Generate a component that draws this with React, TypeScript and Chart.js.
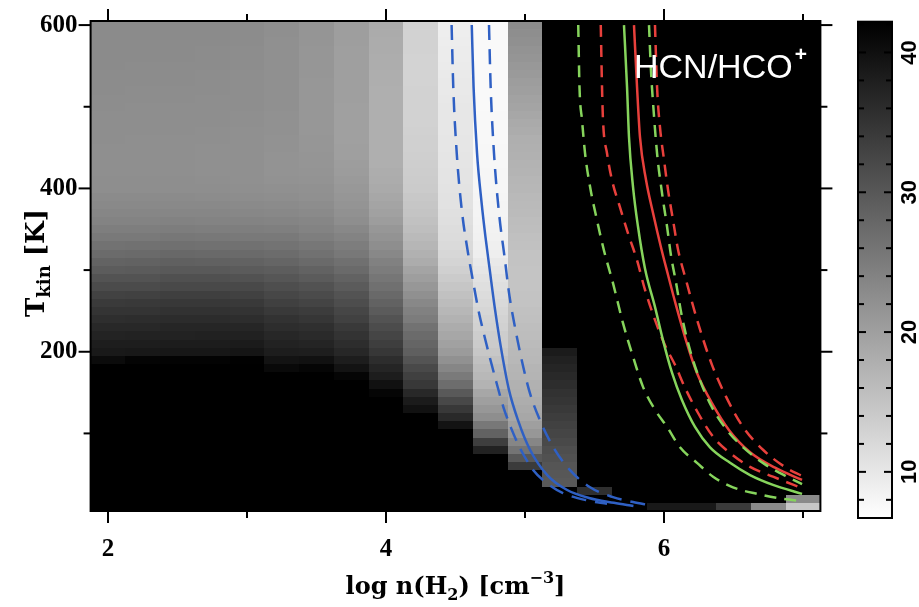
import React, { useEffect, useRef } from 'react';
import { Chart, registerables } from 'chart.js';

Chart.register(...registerables);

// ---------- grid axes ----------
const LOG_N = [2, 2.25, 2.5, 2.75, 3, 3.25, 3.5, 3.75, 4, 4.25, 4.5, 4.75, 5, 5.25, 5.5, 5.75, 6, 6.25, 6.5, 6.75, 7];
const T_KIN = [
  10, 20, 30, 40, 50, 60, 70, 80, 90, 100,
  110, 120, 130, 140, 150, 160, 170, 180, 190, 200,
  210, 220, 230, 240, 250, 260, 270, 280, 290, 300,
  310, 320, 330, 340, 350, 360, 370, 380, 390, 400,
  410, 420, 430, 440, 450, 460, 470, 480, 490, 500,
  510, 520, 530, 540, 550, 560, 570, 580, 590, 600,
];

// ---------- HCN/HCO+ ratio, one array per log n column (T = 10 ... 600) ----------
const RATIO: number[][] = [
  // n = 2.00
  [45, 45, 45, 45, 45, 45, 45, 45, 45, 45, 45, 45, 45, 45, 45, 45, 45, 45,
    40.6, 38.7, 38.1, 37.3, 36.6, 35.8, 34.9, 34.1, 33.0, 31.7, 30.6, 29.4, 28.4, 27.3, 26.3, 25.3, 24.6, 23.9, 23.5, 23.1, 22.8,
    22.5, 22.4, 22.3, 22.3, 22.3, 22.3, 22.4, 22.4, 22.5, 22.5, 22.6, 22.6, 22.7, 22.7, 22.7, 22.8, 22.8, 22.8, 22.9, 22.9, 22.9],
  // n = 2.25
  [45, 45, 45, 45, 45, 45, 45, 45, 45, 45, 45, 45, 45, 45, 45, 45, 45, 45,
    41.6, 38.9, 38.2, 37.4, 36.7, 35.9, 35.0, 34.2, 33.1, 31.8, 30.7, 29.5, 28.5, 27.4, 26.4, 25.4, 24.7, 24.0, 23.5, 23.1, 22.8,
    22.5, 22.4, 22.3, 22.3, 22.3, 22.3, 22.3, 22.4, 22.4, 22.5, 22.5, 22.6, 22.6, 22.7, 22.7, 22.7, 22.8, 22.8, 22.8, 22.9, 22.9],
  // n = 2.50
  [45, 45, 45, 45, 45, 45, 45, 45, 45, 45, 45, 45, 45, 45, 45, 45, 45, 45,
    41.8, 39.0, 38.3, 37.5, 36.9, 36.1, 35.2, 34.4, 33.4, 32.1, 31.0, 29.8, 28.8, 27.7, 26.6, 25.6, 24.8, 24.1, 23.6, 23.1, 22.8,
    22.5, 22.4, 22.3, 22.3, 22.3, 22.3, 22.3, 22.4, 22.4, 22.5, 22.5, 22.6, 22.6, 22.7, 22.7, 22.7, 22.8, 22.8, 22.8, 22.9, 22.9],
  // n = 2.75
  [45, 45, 45, 45, 45, 45, 45, 45, 45, 45, 45, 45, 45, 45, 45, 45, 45, 45,
    41.8, 39.0, 38.3, 37.6, 36.9, 36.1, 35.3, 34.4, 33.4, 32.1, 31.0, 29.8, 28.7, 27.6, 26.5, 25.5, 24.7, 24.0, 23.5, 23.1, 22.7,
    22.4, 22.3, 22.2, 22.2, 22.2, 22.2, 22.3, 22.3, 22.4, 22.4, 22.5, 22.5, 22.6, 22.6, 22.6, 22.7, 22.7, 22.7, 22.8, 22.8, 22.8],
  // n = 3.00
  [45, 45, 45, 45, 45, 45, 45, 45, 45, 45, 45, 45, 45, 45, 45, 45, 45, 45,
    42.0, 39.3, 38.4, 37.6, 36.9, 36.0, 35.1, 34.2, 33.2, 32.0, 30.8, 29.6, 28.5, 27.4, 26.4, 25.4, 24.6, 23.9, 23.4, 23.0, 22.6,
    22.3, 22.2, 22.1, 22.1, 22.1, 22.1, 22.2, 22.2, 22.3, 22.3, 22.4, 22.4, 22.5, 22.5, 22.5, 22.6, 22.6, 22.6, 22.7, 22.7, 22.7],
  // n = 3.25
  [45, 45, 45, 45, 45, 45, 45, 45, 45, 45, 45, 45, 45, 45, 45, 45, 45,
    41.0, 39.5, 38.2, 37.5, 36.8, 36.0, 35.2, 34.3, 33.3, 32.3, 31.3, 30.2, 29.2, 28.2, 27.2, 26.2, 25.3, 24.5, 23.8, 23.2, 22.8, 22.4, 22.1,
    21.9, 21.8, 21.8, 21.8, 21.9, 21.9, 22.0, 22.0, 22.0, 22.1, 22.1, 22.1, 22.1, 22.2, 22.2, 22.2, 22.2, 22.2, 22.3, 22.3],
  // n = 3.50
  [45, 45, 45, 45, 45, 45, 45, 45, 45, 45, 45, 45, 45, 45, 45, 45, 45,
    41.5, 39.8, 38.0, 37.2, 36.4, 35.6, 34.7, 33.8, 32.8, 31.8, 30.8, 29.6, 28.5, 27.5, 26.5, 25.6, 24.7, 24.0, 23.5, 23.0, 22.6, 22.2, 22.0, 21.8,
    21.6, 21.5, 21.4, 21.3, 21.3, 21.2, 21.2, 21.2, 21.2, 21.2, 21.2, 21.2, 21.3, 21.3, 21.3, 21.3, 21.4, 21.4, 21.4],
  // n = 3.75
  [45, 45, 45, 45, 45, 45, 45, 45, 45, 45, 45, 45, 45, 45, 45, 45,
    41.5, 39.5, 38.2, 36.8, 36.0, 35.1, 34.2, 33.2, 32.4, 31.5, 30.6, 29.6, 28.5, 27.5, 26.6, 25.5, 24.8, 24.0, 23.2, 22.5, 22.0, 21.6, 21.3, 21.0, 20.7, 20.5, 20.3, 20.1,
    20.0, 19.9, 19.9, 19.9, 19.9, 19.9, 20.0, 20.0, 20.0, 20.0, 20.1, 20.1, 20.1, 20.2, 20.2, 20.2],
  // n = 4.00
  [45, 45, 45, 45, 45, 45, 45, 45, 45, 45, 45, 45, 45, 45,
    41.5, 39.8, 38.2, 37.0, 35.9, 34.6, 33.6, 32.6, 31.6, 30.6, 29.6, 28.6, 27.6, 26.6, 25.8, 25.0, 24.2, 23.2, 22.4, 21.8, 21.2, 20.4, 19.8, 19.4, 19.0, 18.6, 18.3, 18.1, 17.9, 17.8,
    17.8, 17.8, 17.8, 17.8, 17.8, 17.9, 17.9, 17.9, 18.0, 18.0, 18.1, 18.1, 18.2, 18.3, 18.4, 18.5],
  // n = 4.25
  [45, 45, 45, 45, 45, 45, 45, 45, 45, 45, 45, 45,
    39.8, 38.4, 36.6, 34.4, 33.3, 32.0, 30.5, 29.0, 28.2, 27.3, 26.3, 25.0, 24.2, 23.2, 22.2, 21.2, 20.2, 19.3, 18.3, 17.5, 16.9, 16.3, 15.8, 15.3, 14.9, 14.6, 14.3, 14.0, 13.8, 13.6, 13.5, 13.4,
    13.3, 13.2, 13.1, 13.0, 13.0, 12.9, 12.9, 12.9, 12.8, 12.8, 12.8, 12.8, 12.9, 12.9, 13.0, 13.1],
  // n = 4.50
  [45, 45, 45, 45, 45, 45, 45, 45, 45, 45,
    39.5, 36.5, 34.4, 32.2, 29.8, 27.0, 25.2, 23.6, 22.0, 20.6, 19.8, 19.0, 18.2, 17.4, 16.7, 16.0, 15.3, 14.6, 14.0, 13.3, 12.7, 12.2, 11.9, 11.6, 11.4, 11.2, 11.0, 10.8, 10.7, 10.6, 10.5, 10.4, 10.3, 10.3,
    10.2, 10.2, 10.1, 10.1, 10.0, 10.0, 9.9, 9.8, 9.7, 9.6, 9.5, 9.4, 9.3, 9.2, 9.1, 9.0],
  // n = 4.75
  [45, 45, 45, 45, 45, 45, 45,
    37.5, 33.5, 28.5, 25.5, 22.5, 21.2, 20.0, 18.9, 17.3, 16.6, 16.0, 15.3, 14.5, 14.0, 13.6, 13.1, 12.8, 12.4, 12.0, 11.6, 11.2, 10.7, 10.2, 9.8, 9.1, 8.9, 8.7, 8.5, 8.4, 8.3, 8.2, 8.1, 8.0,
    7.9, 7.9, 7.8, 7.8, 7.8, 7.7, 7.7, 7.7, 7.7, 7.6, 7.6, 7.6, 7.6, 7.6, 7.5, 7.5, 7.5, 7.5, 7.5, 7.5],
  // n = 5.00
  [45, 45, 45, 45, 45,
    34.0, 30.0, 26.0, 23.5, 21.2, 20.0, 19.0, 18.5, 18.1, 17.7, 17.5, 17.2, 17.0, 16.6, 16.4, 16.2, 15.9, 15.7, 15.5, 15.3,
    15.1, 15.0, 14.9, 14.9, 14.9, 15.0, 15.1, 15.3, 15.5, 15.7, 15.9, 16.1, 16.3, 16.5, 16.7, 16.9, 17.1, 17.3, 17.5, 17.7,
    17.9, 18.2, 18.5, 18.9, 19.3, 19.7, 20.0, 20.4, 20.7, 21.0, 21.4, 21.7, 22.1, 22.4, 22.8],
  // n = 5.25
  [45, 45, 45,
    29.8, 30.1, 30.3, 30.9, 31.4, 32.0, 32.6, 33.1, 33.7, 34.2, 34.8, 35.2, 35.9, 36.5, 37.0, 37.6, 38.4,
    45, 45, 45, 45, 45, 45, 45, 45, 45, 45, 45, 45, 45, 45, 45, 45, 45, 45, 45, 45,
    45, 45, 45, 45, 45, 45, 45, 45, 45, 45, 45, 45, 45, 45, 45, 45, 45, 45, 45, 45],
  // n = 5.50
  [45, 45, 35.6, 45, 45, 45, 45, 45, 45, 45,
    45, 45, 45, 45, 45, 45, 45, 45, 45, 45,
    45, 45, 45, 45, 45, 45, 45, 45, 45, 45,
    45, 45, 45, 45, 45, 45, 45, 45, 45, 45,
    45, 45, 45, 45, 45, 45, 45, 45, 45, 45,
    45, 45, 45, 45, 45, 45, 45, 45, 45, 45],
  // n = 5.75
  [45, 45, 45, 45, 45, 45, 45, 45, 45, 45,
    45, 45, 45, 45, 45, 45, 45, 45, 45, 45,
    45, 45, 45, 45, 45, 45, 45, 45, 45, 45,
    45, 45, 45, 45, 45, 45, 45, 45, 45, 45,
    45, 45, 45, 45, 45, 45, 45, 45, 45, 45,
    45, 45, 45, 45, 45, 45, 45, 45, 45, 45],
  // n = 6.00
  [38.7, 45, 45, 45, 45, 45, 45, 45, 45, 45,
    45, 45, 45, 45, 45, 45, 45, 45, 45, 45,
    45, 45, 45, 45, 45, 45, 45, 45, 45, 45,
    45, 45, 45, 45, 45, 45, 45, 45, 45, 45,
    45, 45, 45, 45, 45, 45, 45, 45, 45, 45,
    45, 45, 45, 45, 45, 45, 45, 45, 45, 45],
  // n = 6.25
  [38.7, 45, 45, 45, 45, 45, 45, 45, 45, 45,
    45, 45, 45, 45, 45, 45, 45, 45, 45, 45,
    45, 45, 45, 45, 45, 45, 45, 45, 45, 45,
    45, 45, 45, 45, 45, 45, 45, 45, 45, 45,
    45, 45, 45, 45, 45, 45, 45, 45, 45, 45,
    45, 45, 45, 45, 45, 45, 45, 45, 45, 45],
  // n = 6.50
  [34.0, 45, 45, 45, 45, 45, 45, 45, 45, 45,
    45, 45, 45, 45, 45, 45, 45, 45, 45, 45,
    45, 45, 45, 45, 45, 45, 45, 45, 45, 45,
    45, 45, 45, 45, 45, 45, 45, 45, 45, 45,
    45, 45, 45, 45, 45, 45, 45, 45, 45, 45,
    45, 45, 45, 45, 45, 45, 45, 45, 45, 45],
  // n = 6.75
  [23.0, 45, 45, 45, 45, 45, 45, 45, 45, 45,
    45, 45, 45, 45, 45, 45, 45, 45, 45, 45,
    45, 45, 45, 45, 45, 45, 45, 45, 45, 45,
    45, 45, 45, 45, 45, 45, 45, 45, 45, 45,
    45, 45, 45, 45, 45, 45, 45, 45, 45, 45,
    45, 45, 45, 45, 45, 45, 45, 45, 45, 45],
  // n = 7.00
  [14.5, 23.0, 45, 45, 45, 45, 45, 45, 45, 45,
    45, 45, 45, 45, 45, 45, 45, 45, 45, 45,
    45, 45, 45, 45, 45, 45, 45, 45, 45, 45,
    45, 45, 45, 45, 45, 45, 45, 45, 45, 45,
    45, 45, 45, 45, 45, 45, 45, 45, 45, 45,
    45, 45, 45, 45, 45, 45, 45, 45, 45, 45],
];

// ---------- colour bar ----------
const CB_MIN = 6.7;
const CB_MAX = 42.2;
const CB_TICKS_MAJOR = [10, 20, 30, 40];
const CB_TICKS_MINOR = [8, 12, 14, 16, 18, 22, 24, 26, 28, 32, 34, 36, 38, 42];

// ---------- axis ticks ----------
const X_TICKS_MAJOR = [2, 4, 6];
const X_TICKS_MINOR = [3, 5, 7];
const Y_TICKS_MAJOR = [200, 400, 600];
const Y_TICKS_MINOR = [100, 300, 500];

// ---------- contour curves (log n, T) ----------
const BLUE_MID_N = [4.617, 4.630, 4.655, 4.688, 4.716, 4.745, 4.785, 4.830, 4.885, 4.950, 5.036, 5.160, 5.300, 5.460, 5.640, 5.780];
const BLUE_MID_T = [600, 524, 443, 382, 340, 302, 251, 202, 153, 116, 80, 49, 31, 21, 15, 11];
const BLUE_LO_N = [4.472, 4.484, 4.509, 4.545, 4.590, 4.618, 4.665, 4.720, 4.784, 4.845, 4.906, 4.970, 5.060, 5.158, 5.273, 5.446, 5.590];
const BLUE_LO_T = [600, 524, 443, 374, 321, 294, 251, 211, 169, 132, 104, 80, 55, 39, 27, 18, 14];
const BLUE_HI_N = [4.741, 4.753, 4.777, 4.813, 4.856, 4.885, 4.928, 4.988, 5.036, 5.108, 5.204, 5.324, 5.468, 5.633, 5.777, 5.899];
const BLUE_HI_T = [600, 524, 443, 370, 312, 272, 230, 181, 149, 116, 83, 55, 34, 22, 16, 12];

const GREEN_MID_N = [5.712, 5.734, 5.748, 5.777, 5.813, 5.863, 5.935, 5.993, 6.058, 6.129, 6.223, 6.331, 6.475, 6.619, 6.784, 6.993];
const GREEN_MID_T = [600, 524, 463, 402, 353, 302, 255, 214, 174, 141, 108, 83, 64, 49, 37, 26];
const GREEN_LO_N = [5.383, 5.392, 5.410, 5.432, 5.468, 5.518, 5.568, 5.633, 5.705, 5.777, 5.849, 5.935, 6.022, 6.115, 6.237, 6.353, 6.496, 6.669, 6.849, 7.0];
const GREEN_LO_T = [600, 524, 484, 443, 402, 361, 324, 284, 235, 194, 157, 129, 108, 83, 64, 47, 34, 26, 20, 17];
const GREEN_HI_N = [5.892, 5.906, 5.921, 5.950, 5.986, 6.022, 6.050, 6.086, 6.129, 6.187, 6.259, 6.345, 6.453, 6.576, 6.719, 6.885, 6.993];
const GREEN_HI_T = [600, 545, 505, 443, 394, 353, 318, 285, 243, 202, 165, 132, 104, 82, 63, 47, 38];

const RED_MID_N = [5.784, 5.806, 5.827, 5.871, 5.921, 5.978, 6.029, 6.086, 6.158, 6.237, 6.345, 6.468, 6.619, 6.799, 6.993];
const RED_MID_T = [600, 524, 463, 410, 370, 328, 294, 257, 214, 174, 137, 104, 77, 58, 43];
const RED_LO_N = [5.545, 5.554, 5.561, 5.590, 5.626, 5.683, 5.741, 5.806, 5.863, 5.935, 6.007, 6.079, 6.151, 6.245, 6.353, 6.475, 6.619, 6.784, 6.993];
const RED_LO_T = [600, 524, 484, 443, 410, 377, 345, 312, 276, 239, 208, 184, 156, 125, 96, 76, 59, 47, 33];
const RED_HI_N = [5.935, 5.950, 5.971, 6.000, 6.029, 6.065, 6.101, 6.158, 6.245, 6.345, 6.446, 6.568, 6.712, 6.878, 6.993];
const RED_HI_T = [600, 524, 475, 435, 398, 361, 325, 288, 235, 184, 145, 108, 80, 58, 48];

const BLUE = '#2f60c4';
const GREEN = '#86d45c';
const RED = '#e8403c';

const TICK_FONT = "'Liberation Serif', serif";
const TITLE_FONT = "'DejaVu Serif', serif";

function grayFor(v: number): string {
  const f = (CB_MAX - v) / (CB_MAX - CB_MIN);
  const g = Math.round(255 * Math.max(0, Math.min(1, f)));
  return `rgb(${g},${g},${g})`;
}

type Seg = { t: string; size: number; dy: number };
function drawRich(ctx: CanvasRenderingContext2D, segs: Seg[], x: number, y: number, family: string, weight: string) {
  let total = 0;
  const widths = segs.map((s) => {
    ctx.font = `${weight} ${s.size}px ${family}`;
    const w = ctx.measureText(s.t).width;
    total += w;
    return w;
  });
  let cx = x - total / 2;
  ctx.textAlign = 'left';
  ctx.textBaseline = 'alphabetic';
  segs.forEach((s, i) => {
    ctx.font = `${weight} ${s.size}px ${family}`;
    ctx.fillText(s.t, cx, y + s.dy);
    cx += widths[i];
  });
}

const curve = (ns: number[], ts: number[], color: string, dash: number[]) => ({
  data: ns.map((n, i) => ({ x: n, y: ts[i] })),
  showLine: true,
  borderColor: color,
  backgroundColor: color,
  borderWidth: 2.5,
  borderDash: dash,
  pointRadius: 0,
  cubicInterpolationMode: 'monotone' as const,
});

const heatmapPlugin = {
  id: 'heatmap',
  beforeDatasetsDraw(chart: any) {
    const { ctx, chartArea: a, scales } = chart;
    const xs = scales.x;
    const ys = scales.y;
    ctx.save();
    ctx.beginPath();
    ctx.rect(a.left, a.top, a.right - a.left, a.bottom - a.top);
    ctx.clip();
    LOG_N.forEach((n, i) => {
      const x0 = Math.round(xs.getPixelForValue(n - 0.125));
      const x1 = Math.round(xs.getPixelForValue(n + 0.125));
      T_KIN.forEach((t, j) => {
        const y0 = Math.round(ys.getPixelForValue(t + 5));
        const y1 = Math.round(ys.getPixelForValue(t - 5));
        ctx.fillStyle = grayFor(RATIO[i][j]);
        ctx.fillRect(x0, y0, x1 - x0, y1 - y0);
      });
    });
    ctx.restore();
  },
};

const labelPlugin = {
  id: 'inplotLabel',
  afterDatasetsDraw(chart: any) {
    const { ctx } = chart;
    ctx.save();
    ctx.fillStyle = '#ffffff';
    ctx.textAlign = 'left';
    ctx.textBaseline = 'alphabetic';
    ctx.font = "34px 'Liberation Sans', sans-serif";
    const txt = 'HCN/HCO';
    const x0 = 634;
    ctx.fillText(txt, x0, 78);
    const w = ctx.measureText(txt).width;
    ctx.font = "bold 21px 'Liberation Sans', sans-serif";
    ctx.fillText('+', x0 + w + 2, 61);
    ctx.restore();
  },
};

const framePlugin = {
  id: 'frameTicks',
  afterDraw(chart: any) {
    const { ctx, chartArea: a, scales } = chart;
    const xs = scales.x;
    const ys = scales.y;
    ctx.save();
    ctx.strokeStyle = '#000';
    ctx.lineWidth = 2;
    ctx.strokeRect(a.left, a.top, a.right - a.left, a.bottom - a.top);
    const line = (x1: number, y1: number, x2: number, y2: number) => {
      ctx.beginPath();
      ctx.moveTo(x1, y1);
      ctx.lineTo(x2, y2);
      ctx.stroke();
    };
    const xt = (vals: number[], len: number) =>
      vals.forEach((v) => {
        const p = xs.getPixelForValue(v);
        line(p, a.bottom, p, a.bottom + len);
        line(p, a.top, p, a.top - len);
      });
    const yt = (vals: number[], len: number) =>
      vals.forEach((v) => {
        const p = ys.getPixelForValue(v);
        line(a.left, p, a.left - len, p);
        line(a.right, p, a.right + len, p);
      });
    xt(X_TICKS_MAJOR, 12);
    xt(X_TICKS_MINOR, 7);
    yt(Y_TICKS_MAJOR, 12);
    yt(Y_TICKS_MINOR, 7);

    // axis titles
    ctx.fillStyle = '#000';
    drawRich(
      ctx,
      [
        { t: 'log n(H', size: 24, dy: 0 },
        { t: '2', size: 16, dy: 6 },
        { t: ') [cm', size: 24, dy: 0 },
        { t: '\u22123', size: 16, dy: -11 },
        { t: ']', size: 24, dy: 0 },
      ],
      (a.left + a.right) / 2,
      594,
      TITLE_FONT,
      'bold'
    );
    ctx.save();
    ctx.translate(44, 263);
    ctx.rotate(-Math.PI / 2);
    drawRich(
      ctx,
      [
        { t: 'T', size: 26, dy: 0 },
        { t: 'kin', size: 18, dy: 6 },
        { t: ' [K]', size: 26, dy: 0 },
      ],
      0,
      0,
      TITLE_FONT,
      'bold'
    );
    ctx.restore();
    ctx.restore();
  },
};

const colorbarPlugin = {
  id: 'colorbar',
  afterDraw(chart: any) {
    const { ctx, chartArea: a, scales } = chart;
    const ys = scales.y;
    const top = ys.getPixelForValue(CB_MAX);
    const bot = ys.getPixelForValue(CB_MIN);
    ctx.save();
    const grad = ctx.createLinearGradient(0, bot, 0, top);
    grad.addColorStop(0, grayFor(CB_MIN));
    grad.addColorStop(1, grayFor(CB_MAX));
    ctx.fillStyle = grad;
    ctx.fillRect(a.left, top, a.right - a.left, bot - top);
    ctx.strokeStyle = '#000';
    ctx.lineWidth = 2;
    const line = (x1: number, y1: number, x2: number, y2: number) => {
      ctx.beginPath();
      ctx.moveTo(x1, y1);
      ctx.lineTo(x2, y2);
      ctx.stroke();
    };
    const tk = (vals: number[], len: number) =>
      vals.forEach((v) => {
        const p = ys.getPixelForValue(v);
        line(a.left, p, a.left + len, p);
        line(a.right, p, a.right - len, p);
      });
    tk(CB_TICKS_MAJOR, 8);
    tk(CB_TICKS_MINOR, 6);
    ctx.strokeRect(a.left, top, a.right - a.left, bot - top);
    ctx.fillStyle = '#000';
    ctx.font = "bold 22px 'Liberation Sans', sans-serif";
    ctx.textAlign = 'center';
    ctx.textBaseline = 'alphabetic';
    CB_TICKS_MAJOR.forEach((v) => {
      const p = ys.getPixelForValue(v);
      ctx.save();
      ctx.translate(a.right + 24, p);
      ctx.rotate(-Math.PI / 2);
      ctx.fillText(String(v), 0, 0);
      ctx.restore();
    });
    ctx.restore();
  },
};

export default function App() {
  const mainRef = useRef<HTMLCanvasElement>(null);
  const cbRef = useRef<HTMLCanvasElement>(null);

  useEffect(() => {
    const main = new Chart(mainRef.current as HTMLCanvasElement, {
      type: 'scatter',
      data: {
        datasets: [
          curve(BLUE_LO_N, BLUE_LO_T, BLUE, [15, 9]),
          curve(BLUE_HI_N, BLUE_HI_T, BLUE, [15, 9]),
          curve(BLUE_MID_N, BLUE_MID_T, BLUE, []),
          curve(GREEN_LO_N, GREEN_LO_T, GREEN, [12, 8]),
          curve(GREEN_HI_N, GREEN_HI_T, GREEN, [12, 8]),
          curve(GREEN_MID_N, GREEN_MID_T, GREEN, []),
          curve(RED_LO_N, RED_LO_T, RED, [12, 8]),
          curve(RED_HI_N, RED_HI_T, RED, [12, 8]),
          curve(RED_MID_N, RED_MID_T, RED, []),
        ] as any,
      },
      options: {
        responsive: false,
        animation: false,
        events: [],
        layout: { padding: { left: 0, top: 21, right: 98.6, bottom: 0 } },
        plugins: { legend: { display: false }, tooltip: { enabled: false } },
        scales: {
          x: {
            type: 'linear',
            position: 'bottom',
            min: 1.875,
            max: 7.125,
            afterBuildTicks: (s: any) => {
              s.ticks = X_TICKS_MAJOR.map((v) => ({ value: v }));
            },
            afterFit: (s: any) => {
              s.height = 96;
              s.paddingLeft = 0;
              s.paddingRight = 0;
            },
            ticks: { color: '#000', padding: 24, font: { family: TICK_FONT, size: 25, weight: 'bold' } },
            grid: { display: false, drawTicks: false },
            border: { display: false },
          },
          y: {
            type: 'linear',
            position: 'left',
            min: 5,
            max: 605,
            afterBuildTicks: (s: any) => {
              s.ticks = Y_TICKS_MAJOR.map((v) => ({ value: v }));
            },
            afterFit: (s: any) => {
              s.width = 90.6;
              s.paddingTop = 0;
              s.paddingBottom = 0;
            },
            ticks: { color: '#000', padding: 13, font: { family: TICK_FONT, size: 25, weight: 'bold' } },
            grid: { display: false, drawTicks: false },
            border: { display: false },
          },
        },
      } as any,
      plugins: [heatmapPlugin, labelPlugin, framePlugin],
    });

    const cb = new Chart(cbRef.current as HTMLCanvasElement, {
      type: 'scatter',
      data: { datasets: [] },
      options: {
        responsive: false,
        animation: false,
        events: [],
        layout: { padding: { left: 28, top: 21.7, right: 0, bottom: 89 } },
        plugins: { legend: { display: false }, tooltip: { enabled: false } },
        scales: {
          x: { type: 'linear', display: false, min: 0, max: 1 },
          y: {
            type: 'linear',
            position: 'right',
            min: CB_MIN,
            max: CB_MAX,
            ticks: { display: false },
            grid: { display: false, drawTicks: false },
            border: { display: false },
            afterFit: (s: any) => {
              s.width = 27;
              s.paddingTop = 0;
              s.paddingBottom = 0;
            },
          },
        },
      } as any,
      plugins: [colorbarPlugin],
    });

    return () => {
      main.destroy();
      cb.destroy();
    };
  }, []);

  return (
    <div style={{ position: 'absolute', left: 0, top: 0, width: 919, height: 607, background: '#fff' }}>
      <canvas
        ref={mainRef}
        width={919}
        height={607}
        style={{ position: 'absolute', left: 0, top: 0, width: 919, height: 607 }}
      />
      <canvas
        ref={cbRef}
        width={89}
        height={607}
        style={{ position: 'absolute', left: 830, top: 0, width: 89, height: 607 }}
      />
    </div>
  );
}
